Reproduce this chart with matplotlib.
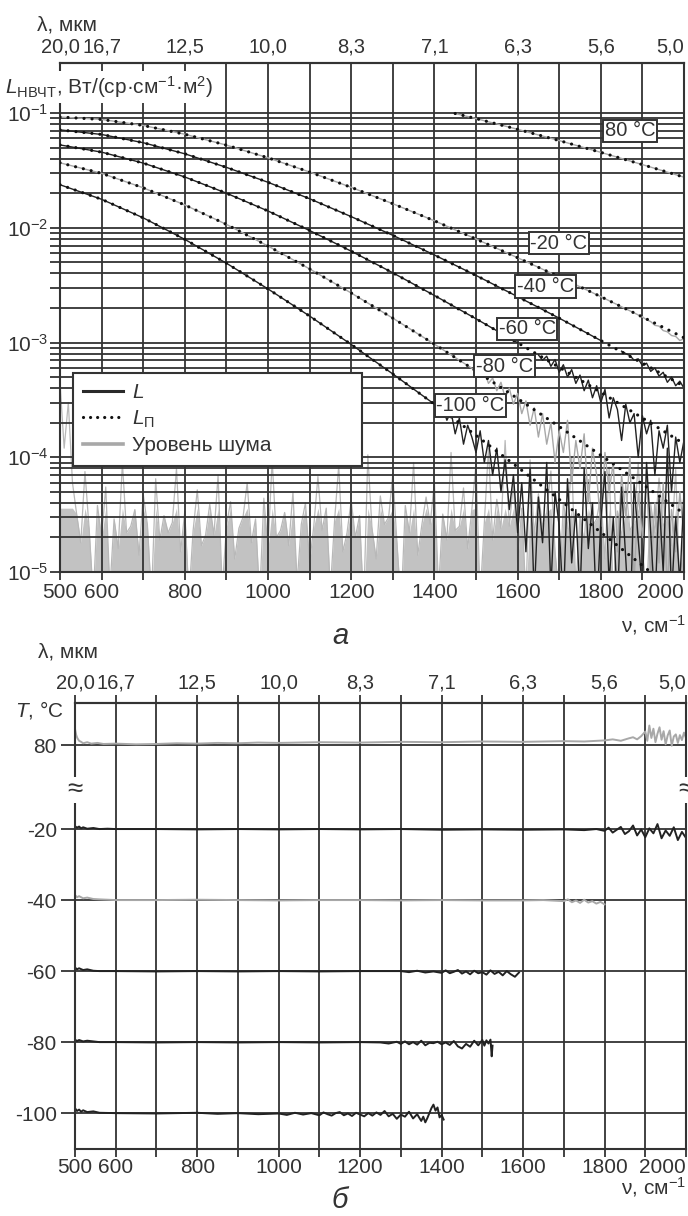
import numpy as np
import matplotlib
matplotlib.use('Agg')
import matplotlib.pyplot as plt
from matplotlib.lines import Line2D
from matplotlib.ticker import FixedLocator, NullFormatter

plt.rcParams['font.family'] = ['Liberation Sans', 'DejaVu Sans']
plt.rcParams['mathtext.fontset'] = 'custom'
plt.rcParams['mathtext.rm'] = 'Liberation Sans'
plt.rcParams['mathtext.it'] = 'Liberation Sans:italic'
plt.rcParams['mathtext.bf'] = 'Liberation Sans:bold'

W, H = 688, 1216
INK = '#333333'
GREY = '#a8a8a8'
FS = 15

# --- axis labels ----------------------------------------------------------
nu_ticks = [500, 600, 700, 800, 900, 1000, 1100, 1200, 1300, 1400, 1500,
            1600, 1700, 1800, 1900, 2000]
nu_labels = ['500', '600', '', '800', '', '1000', '', '1200', '', '1400', '',
             '1600', '', '1800', '', '2000']
lam_pos = [500, 600, 800, 1000, 1200, 1400, 1600, 1800, 2000]
lam_labels = ['20,0', '16,7', '12,5', '10,0', '8,3', '7,1', '6,3', '5,6', '5,0']

# --- panel a: calculated radiance L_P (dotted), W/(sr cm-1 m2) ------------
nu_100 = [500, 600, 700, 800, 900, 1000, 1100, 1200, 1300, 1400, 1500,
          1600, 1700, 1800, 1900, 2000]
nu_80 = [1450, 1500, 1600, 1700, 1800, 1900, 2000]
lp_80 = [0.0990, 0.0894, 0.0721, 0.0575, 0.0454, 0.0355, 0.0276]
lp_m20 = [0.0922, 0.0879, 0.0779, 0.0653, 0.0525, 0.0407, 0.0306, 0.0225,
          0.0162, 0.0115, 0.00798, 0.00548, 0.00373, 0.00251, 0.00167, 0.00110]
lp_m40 = [0.0713, 0.0650, 0.0551, 0.0441, 0.0336, 0.0249, 0.0179, 0.0125,
          0.00859, 0.00579, 0.00384, 0.00251, 0.00163, 0.00104, 0.000661, 0.000416]
lp_m60 = [0.0527, 0.0456, 0.0366, 0.0277, 0.0200, 0.0140, 0.00946, 0.00625,
          0.00405, 0.00257, 0.00161, 0.000996, 0.000608, 0.000368, 0.000220, 0.000131]
lp_m80 = [0.0368, 0.0298, 0.0223, 0.0158, 0.0107, 0.00693, 0.00438, 0.00270,
          0.00163, 0.000967, 0.000565, 0.000325, 0.000185, 0.000104, 0.0000583,
          0.0000323]
lp_m100 = [0.0237, 0.0177, 0.0122, 0.00792, 0.00491, 0.00293, 0.00170, 0.000961,
           0.000532, 0.000290, 0.000155, 0.0000821, 0.0000429, 0.0000222,
           0.0000114, 0.0000058]

# --- panel a: measured radiance L, noisy tails (units of 1e-5) -------------
nu_tail_m20 = [1900, 1910, 1920, 1930, 1940, 1950, 1960, 1970, 1980, 1990, 2000]
l_tail_m20 = [167, 158, 152, 141, 139, 127, 124, 115, 113, 104, 108]

nu_tail_m40 = [1850, 1860, 1870, 1880, 1890, 1900, 1910, 1920, 1930, 1940,
               1950, 1960, 1970, 1980, 1990, 2000]
l_tail_m40 = [84, 80, 77, 70, 72, 63, 66, 56, 60, 51, 55, 45, 50, 42, 46, 40]

nu_tail_m60 = list(range(1650, 2001, 10))
l_tail_m60 = [78, 70, 76, 62, 71, 55, 64, 50, 58, 44,
              52, 38, 47, 33, 42, 30, 39, 22, 33, 26,
              14, 29, 20, 24, 10, 23, 16, 21, 7, 17,
              12, 19, 5, 15, 9, 14]

nu_tail_m80 = list(range(1500, 2001, 10))
l_tail_m80 = [57, 50, 56, 44, 49, 38, 45, 33, 40, 29,
              36, 24, 31, 19, 27, 15, 24, 13, 20, 9,
              17, 11, 21, 6, 14, 8, 16, 4, 12, 7,
              2.5, 11, 5, 9, 1.5, 7, 3, 10, 0.8, 5,
              2, 7, 0.9, 4, 1.2, 6, 0.7, 3.5, 1.5, 5, 2]

nu_tail_m100 = list(range(1400, 2001, 10))
l_tail_m100 = [29, 24, 27, 21, 25, 16, 22, 13, 19, 15,
               11, 17, 9, 14, 7, 12, 5, 9.5, 3.5, 7,
               2.2, 6, 1.5, 8, 0.6, 4.5, 1.8, 9, 0.7, 5,
               2.5, 0.5, 6.5, 1.2, 3.5, 0.6, 8, 1.6, 4, 0.4,
               2.8, 7.5, 0.8, 3, 0.5, 5.5, 1.3, 0.3, 6, 1.9,
               0.7, 9, 2.2, 0.5, 4.5, 1, 12, 0.6, 3, 0.8, 5]

# --- panel a: noise level (units of 1e-5), every 10 cm-1 -----------------
nu_noise = list(range(500, 2001, 10))
noise_level = [45, 12, 30, 6, 3.2, 1.8, 7.5, 2.4, 0.6, 3.8,
               2.0, 5.5, 0.7, 2.9, 1.6, 9.0, 2.2, 2.5, 3.5, 1.4,
               4.8, 2.6, 0.6, 6.5, 1.9, 3.1, 2.2, 2.7, 8.0, 1.5,
               3.4, 0.6, 2.3, 5.2, 1.7, 2.1, 3.9, 2.1, 7.0, 0.7,
               2.5, 4.1, 1.3, 2.4, 3.0, 6.0, 1.8, 2.9, 0.6, 4.4,
               1.6, 9.5, 2.0, 2.3, 3.3, 1.7, 5.0, 0.8, 2.6, 4.0,
               1.2, 2.5, 6.8, 2.3, 3.6, 0.7, 2.8, 8.5, 1.5, 2.2,
               4.2, 2.0, 3.1, 0.5, 10.5, 2.4, 1.3, 4.6, 2.6, 3.0,
               7.2, 1.8, 0.5, 3.8, 2.2, 9.0, 1.4, 2.6, 4.5, 2.6,
               6.2, 0.7, 3.2, 1.9, 11.0, 2.3, 2.5, 5.4, 1.6, 3.5,
               8.8, 0.6, 2.7, 12.0, 1.9, 4.3, 2.4, 14.0, 2.5, 6.0,
               1.2, 3.6, 0.6, 9.5, 2.1, 4.8, 2.5, 3.3, 7.6, 1.5,
               0.6, 4.0, 2.4, 10.0, 0.7, 3.1, 1.8, 6.4, 2.5, 2.9,
               4.6, 1.3, 8.2, 0.6, 3.4, 2.0, 5.8, 2.3, 2.7, 9.0,
               1.6, 0.6, 3.9, 2.2, 6.6, 2.5, 3.0, 1.7, 7.8, 0.7,
               2.5]

# --- panel b: temperature, deg C -------------------------------------------
nu_t80 = [500, 503, 506, 510, 515, 520, 530, 540, 555, 570, 600, 650, 700, 750,
          800, 850, 900, 950, 1000, 1100, 1200, 1300, 1400, 1500, 1600, 1700,
          1750, 1800, 1820, 1840, 1860, 1870, 1880, 1890, 1900, 1905, 1910, 1915,
          1920, 1925, 1930, 1935, 1940, 1945, 1950, 1955, 1960, 1965, 1970, 1975,
          1980, 1985, 1990, 1995, 2000]
t_80 = [84.5, 82.8, 81.9, 81.2, 80.9, 80.5, 80.8, 80.4, 80.6, 80.3, 80.4, 80.2,
        80.3, 80.5, 80.4, 80.6, 80.5, 80.7, 80.6, 80.8, 80.7, 80.9, 80.8, 81.0,
        80.9, 81.1, 81.0, 81.3, 81.6, 81.2, 81.9, 82.2, 81.6, 82.5, 83.8, 81.2,
        85.5, 82.0, 84.6, 80.8, 83.2, 85.0, 81.5, 83.9, 80.2, 82.7, 84.1, 79.8,
        82.4, 83.0, 80.6, 82.8, 81.4, 83.5, 82.0]

nu_tm20 = [500, 505, 510, 515, 520, 530, 545, 560, 580, 600, 700, 800, 900,
           1000, 1100, 1200, 1300, 1400, 1500, 1600, 1700, 1750, 1780, 1800,
           1810, 1820, 1830, 1840, 1850, 1860, 1870, 1880, 1890, 1900, 1910,
           1920, 1930, 1940, 1950, 1960, 1970, 1980, 1990, 2000]
t_m20 = [-19.2, -19.6, -19.3, -19.8, -19.5, -19.9, -19.7, -20.0, -19.9, -20.0,
         -20.0, -20.1, -20.0, -20.1, -20.0, -20.1, -20.0, -20.2, -20.1, -20.2,
         -20.1, -20.3, -20.0, -20.5, -19.6, -21.0, -20.2, -19.4, -21.4, -20.6,
         -19.0, -21.8, -20.1, -22.3, -19.8, -21.2, -18.6, -22.6, -20.4, -21.9,
         -19.5, -23.1, -20.8, -22.5]

nu_tm40 = [500, 505, 510, 520, 530, 545, 560, 600, 700, 800, 900, 1000, 1100,
           1200, 1300, 1400, 1500, 1600, 1650, 1700, 1710, 1720, 1730, 1740,
           1750, 1760, 1770, 1780, 1790, 1800]
t_m40 = [-38.6, -39.2, -38.9, -39.5, -39.3, -39.7, -39.8, -40.0, -40.0, -39.9,
         -40.0, -40.1, -40.0, -40.0, -40.1, -40.0, -40.1, -40.1, -40.0, -40.3,
         -39.8, -40.6, -40.1, -40.8, -39.9, -40.7, -40.3, -41.0, -40.5, -41.2]

nu_tm60 = [500, 505, 510, 520, 530, 545, 560, 600, 700, 800, 900, 1000, 1100,
           1200, 1300, 1320, 1340, 1360, 1380, 1400, 1410, 1420, 1430, 1440, 1450,
           1460, 1470, 1480, 1490, 1500, 1510, 1520, 1530, 1540, 1550, 1560, 1570,
           1580, 1590]
t_m60 = [-59.0, -59.5, -59.2, -59.7, -59.5, -59.9, -60.0, -60.0, -60.1, -60.0,
         -60.1, -60.0, -60.1, -60.0, -60.0, -60.3, -59.9, -60.4, -60.1, -60.5,
         -59.8, -60.6, -60.2, -59.7, -60.7, -60.1, -60.9, -59.9, -60.6, -60.3,
         -61.0, -59.8, -60.8, -60.2, -61.2, -60.0, -60.9, -61.6, -60.4]

nu_tm80 = [500, 505, 510, 520, 530, 560, 600, 700, 800, 900, 1000, 1100, 1200,
           1250, 1270, 1290, 1300, 1310, 1320, 1330, 1340, 1350, 1360, 1370, 1380,
           1390, 1400, 1410, 1420, 1430, 1440, 1450, 1460, 1470, 1480, 1490, 1500,
           1505, 1510, 1515, 1520, 1523, 1525]
t_m80 = [-79.3, -79.7, -79.4, -79.8, -79.6, -80.0, -80.0, -80.1, -80.0, -80.1,
         -80.0, -80.1, -80.0, -80.1, -80.4, -79.9, -80.5, -79.8, -80.6, -80.0,
         -80.7, -79.6, -80.9, -80.2, -80.3, -79.9, -80.6, -80.1, -80.8, -79.7,
         -81.2, -81.8, -80.5, -81.3, -79.6, -80.9, -79.4, -81.0, -79.5, -80.4,
         -79.3, -84.0, -81.0]

nu_tm100 = [500, 505, 510, 515, 520, 530, 545, 560, 600, 700, 800, 850, 900, 950,
            1000, 1020, 1040, 1060, 1080, 1100, 1110, 1120, 1130, 1140, 1150, 1160,
            1170, 1180, 1190, 1200, 1210, 1220, 1230, 1240, 1250, 1260, 1270, 1280,
            1290, 1300, 1310, 1320, 1330, 1340, 1350, 1355, 1360, 1365, 1370, 1375,
            1380, 1385, 1390, 1395, 1400, 1405]
t_m100 = [-98.6, -99.4, -99.0, -99.6, -99.2, -99.7, -99.5, -99.9, -100.0, -100.1,
          -99.9, -100.2, -100.0, -100.3, -100.1, -100.5, -99.9, -100.4, -100.0,
          -100.6, -99.8, -100.3, -100.7, -100.0, -99.7, -100.6, -100.1, -100.8,
          -99.9, -100.4, -100.9, -100.0, -100.7, -99.8, -100.5, -99.4, -100.9,
          -100.2, -101.6, -100.4, -101.0, -99.6, -101.5, -100.3, -102.2, -101.0,
          -102.6, -101.4, -100.0, -98.6, -97.6, -99.3, -98.4, -101.2, -100.5,
          -101.8]

T80_SHIFT = 76.34  # the 80 deg C trace sits above the axis break


def fx(x):
    return x / W


def fy(y):
    return 1 - y / H


def pt(px):
    return px * 72 / 100


fig = plt.figure(figsize=(W / 100, H / 100), dpi=100)
ax1 = fig.add_axes([fx(60), fy(572), (684 - 60) / W, (572 - 63) / H])
ax2 = fig.add_axes([fx(75), fy(1149), (686 - 75) / W, (1149 - 703) / H])

# --- panel a ---------------------------------------------------------------
e5 = 1e-5
noise = np.array(noise_level) * e5
# dense grey band up to the typical level, thin spikes above it
ax1.fill_between(nu_noise, 1e-7, np.minimum(noise, 3.6e-5), color='#c2c2c2',
                 lw=0, zorder=0.2)
ax1.plot(nu_noise, noise, color='#b8b8b8', lw=0.9, zorder=0.3)

series = [
    (nu_80, lp_80, None, None, GREY),
    (nu_100, lp_m20, nu_tail_m20, l_tail_m20, GREY),
    (nu_100, lp_m40, nu_tail_m40, l_tail_m40, '#222222'),
    (nu_100, lp_m60, nu_tail_m60, l_tail_m60, '#222222'),
    (nu_100, lp_m80, nu_tail_m80, l_tail_m80, GREY),
    (nu_100, lp_m100, nu_tail_m100, l_tail_m100, '#222222'),
]
for nu, lp, nu_t, l_t, col in series:
    nu = np.array(nu)
    lp = np.array(lp)
    if nu_t is None:
        ax1.plot(nu, lp, color=col, lw=1.0, zorder=2)
    else:
        keep = nu <= nu_t[0]
        ax1.plot(nu[keep], lp[keep], color=col, lw=1.0, zorder=2)
        ax1.plot(nu_t, np.array(l_t) * e5, color=col, lw=1.0, zorder=2.1)
    ax1.plot(nu, lp, color='#111111', lw=2.3, ls=(0, (0.01, 2.5)),
             dash_capstyle='round', zorder=3)

ax1.set_yscale('log')
ax1.set_xlim(500, 2000)
ax1.set_ylim(1e-5, 10 ** (-1 + 50 / 114.75))
ax1.set_axisbelow(True)

ax1.set_xticks(nu_ticks)
ax1.set_xticklabels(nu_labels)
ax1.get_xticklabels()[-1].set_ha('right')
ax1.yaxis.set_major_locator(FixedLocator([1e-5, 1e-4, 1e-3, 1e-2, 1e-1]))
ax1.set_yticklabels(['10$^{-5}$', '10$^{-4}$', '10$^{-3}$', '10$^{-2}$', '10$^{-1}$'])
ax1.yaxis.set_minor_locator(FixedLocator(
    [k * 10.0 ** e for e in range(-5, -1) for k in range(2, 10)]))
ax1.yaxis.set_minor_formatter(NullFormatter())
ax1.tick_params(axis='both', which='both', direction='out', color=INK,
                width=1.3, labelsize=FS, labelcolor=INK)
ax1.tick_params(axis='x', length=pt(8), pad=2)
ax1.tick_params(axis='y', which='both', length=pt(10), pad=1)
ax1.grid(True, which='both', axis='y', color=INK, lw=1.3)
ax1.grid(True, which='major', axis='x', color=INK, lw=1.3)
for s in ax1.spines.values():
    s.set_color(INK)
    s.set_linewidth(1.5)

sec1 = ax1.secondary_xaxis('top')
sec1.set_xticks(lam_pos, labels=lam_labels)
sec1.tick_params(length=0, pad=5, labelsize=14.5, labelcolor=INK)
sec1.get_xticklabels()[-1].set_ha('right')
sec1.spines['top'].set_color(INK)
sec1.spines['top'].set_linewidth(1.5)

# curve labels
tag_text = ['80 °C', '-20 °C', '-40 °C', '-60 °C', '-80 °C', '-100 °C']
tag_pos = [(1870, 0.0697), (1699, 7.36e-3), (1667, 3.08e-3), (1623, 1.32e-3),
           (1568, 6.24e-4), (1487, 2.82e-4)]
for txt, (x, y) in zip(tag_text, tag_pos):
    ax1.text(x, y, txt, ha='center', va='center', fontsize=14.5, color=INK,
             zorder=6, bbox=dict(boxstyle='square,pad=0.08', fc='white',
                                 ec=INK, lw=1.4))

handles = [Line2D([], [], color='#2a2a2a', lw=2.2),
           Line2D([], [], color='#111111', lw=2.3, ls=(0, (0.01, 2.2)),
                  dash_capstyle='round'),
           Line2D([], [], color=GREY, lw=2.6)]
leg = ax1.legend(handles, ['$L$', '$L_{\\mathrm{П}}$', 'Уровень шума'],
                 loc='upper left', bbox_to_anchor=(13 / 624, 0, 289 / 624, 199 / 509),
                 mode='expand', borderaxespad=0, fontsize=FS, handlelength=1.9,
                 handletextpad=0.45, labelspacing=0.3, borderpad=0.5,
                 fancybox=False, framealpha=1, edgecolor=INK)
leg.get_frame().set_linewidth(1.5)
for t in leg.get_texts():
    t.set_color(INK)
leg.set_zorder(7)

fig.text(fx(37), fy(25), 'λ, мкм', fontsize=FS, color=INK, va='center')
ax1.text(fx(5), fy(87), '$L_{\\mathrm{НВЧТ}}$, Вт/(ср·см$^{-1}$·м$^{2}$)',
         transform=fig.transFigure, fontsize=FS, color=INK, va='center',
         zorder=8, clip_on=False,
         bbox=dict(boxstyle='square,pad=0.15', fc='white', ec='none'))
fig.text(fx(686), fy(625), 'ν, см$^{-1}$', fontsize=FS, color=INK, ha='right',
         va='center')
fig.text(fx(340), fy(636), 'а', fontsize=21, style='italic', color=INK,
         ha='center', va='center')

# --- panel b ---------------------------------------------------------------
ax2.plot(nu_t80, np.array(t_80) - T80_SHIFT, color=GREY, lw=1.4, zorder=2)
ax2.plot(nu_tm20, t_m20, color='#222222', lw=1.4, zorder=2)
ax2.plot(nu_tm40, t_m40, color=GREY, lw=1.4, zorder=2)
ax2.plot(nu_tm60, t_m60, color='#222222', lw=1.4, zorder=2)
ax2.plot(nu_tm80, t_m80, color='#222222', lw=1.4, zorder=2)
ax2.plot(nu_tm100, t_m100, color='#222222', lw=1.4, zorder=2)

ax2.set_xlim(500, 2000)
ax2.set_ylim(-110.1, 15.5)
ax2.set_axisbelow(True)
ax2.set_xticks(nu_ticks)
ax2.set_xticklabels(nu_labels)
ax2.get_xticklabels()[-1].set_ha('right')
ax2.set_yticks([80 - T80_SHIFT, -20, -40, -60, -80, -100])
ax2.set_yticklabels(['80', '-20', '-40', '-60', '-80', '-100'])
ax2.tick_params(axis='both', direction='out', color=INK, width=1.3,
                labelsize=FS, labelcolor=INK)
ax2.tick_params(axis='x', length=pt(8), pad=1)
ax2.tick_params(axis='y', length=pt(14), pad=3)
ax2.grid(True, color=INK, lw=1.3)
for s in ax2.spines.values():
    s.set_color(INK)
    s.set_linewidth(1.5)

sec2 = ax2.secondary_xaxis('top')
sec2.set_xticks(nu_ticks, labels=['' for _ in nu_ticks])
sec2.tick_params(length=pt(8), width=1.3, color=INK, direction='out')
sec2.spines['top'].set_color(INK)
sec2.spines['top'].set_linewidth(1.5)
sec3 = ax2.secondary_xaxis('top')
sec3.set_xticks(lam_pos, labels=lam_labels)
sec3.tick_params(length=pt(8), pad=2, labelsize=14.5, labelcolor=INK, color='none')
sec3.spines['top'].set_visible(False)
sec3.get_xticklabels()[-1].set_ha('right')

for xs in (75, 686):
    fig.text(fx(xs), fy(790), '≈', fontsize=20, color=INK, ha='center',
             va='center',
             bbox=dict(boxstyle='square,pad=0.0', fc='white', ec='none'))

fig.text(fx(38), fy(652), 'λ, мкм', fontsize=FS, color=INK, va='center')
fig.text(fx(15), fy(710), '$T$, °C', fontsize=FS, color=INK, va='center')
fig.text(fx(686), fy(1187), 'ν, см$^{-1}$', fontsize=FS, color=INK, ha='right',
         va='center')
fig.text(fx(340), fy(1200), 'б', fontsize=21, style='italic', color=INK,
         ha='center', va='center')

fig.savefig('out.png', dpi=100, facecolor='white')
